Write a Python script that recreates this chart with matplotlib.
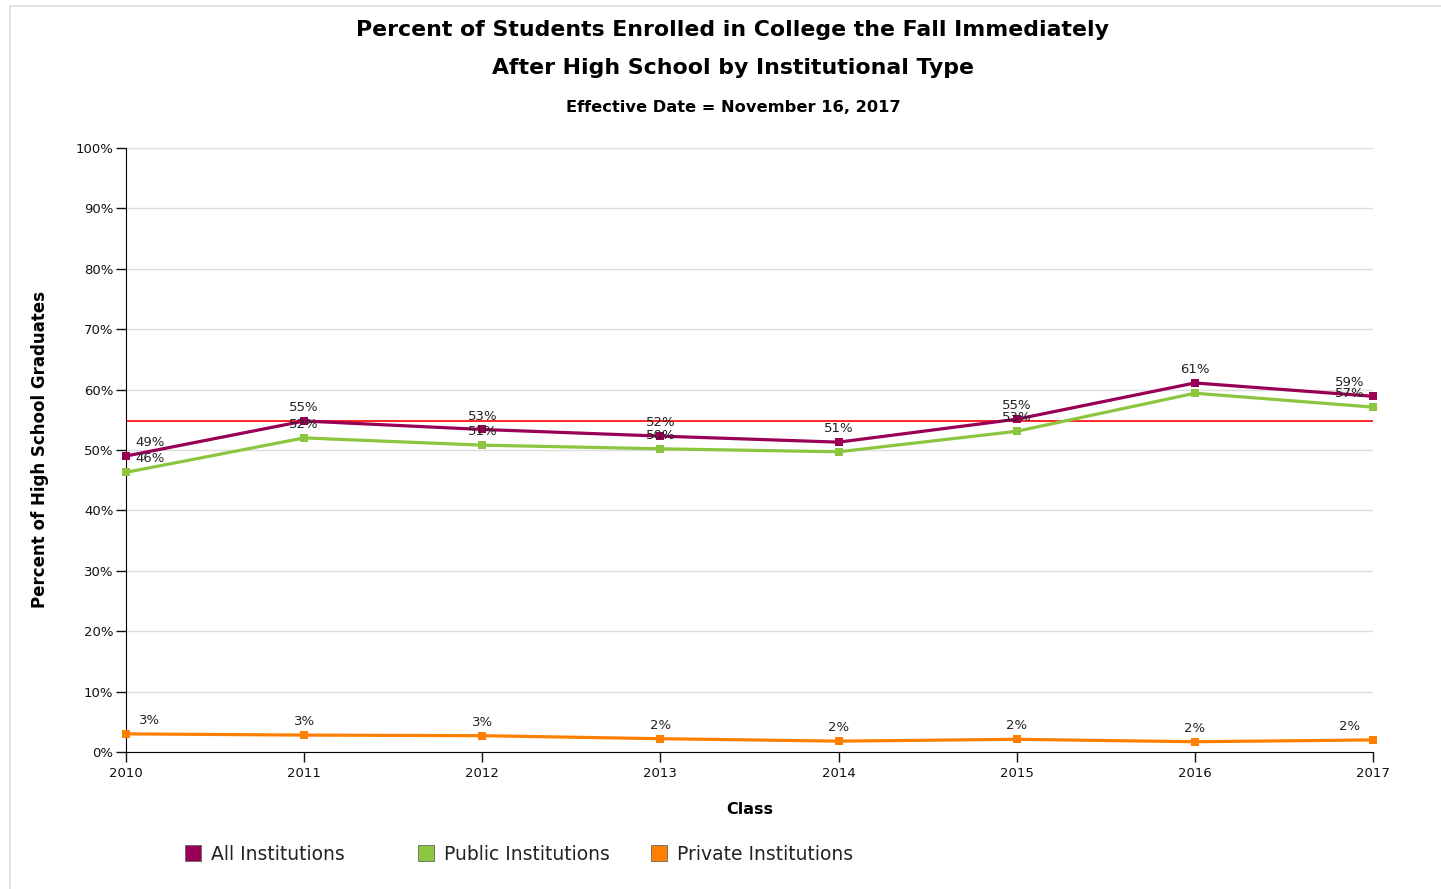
import matplotlib
matplotlib.use("Agg")
import matplotlib.pyplot as plt
from matplotlib.patches import Rectangle
from matplotlib.lines import Line2D

plt.rcParams['font.family'] = ['DejaVu Sans']

years = [2010, 2011, 2012, 2013, 2014, 2015, 2016, 2017]
all_inst = [49.0, 54.8, 53.4, 52.3, 51.3, 55.1, 61.1, 58.9]
public_inst = [46.3, 52.0, 50.8, 50.2, 49.7, 53.1, 59.4, 57.1]
private_inst = [3.0, 2.8, 2.7, 2.2, 1.8, 2.1, 1.7, 2.0]
benchmark = 54.8

series_names = ["All Institutions", "Public Institutions", "Private Institutions"]
series_colors = ["#990055", "#8cc63f", "#ff8000"]
yticks = list(range(0, 101, 10))
ytick_labels = [f"{v}%" for v in yticks]

W, H = 1441, 889
fig = plt.figure(figsize=(W / 100, H / 100), dpi=100)
fig.patch.set_facecolor("white")

# outer border
fig.add_artist(Rectangle((10 / W, -0.01), (W - 9) / W, (H - 6) / H + 0.01, transform=fig.transFigure,
                         fill=False, edgecolor="#dddddd", linewidth=1.2))

left, right, top, bottom = 126, 1373, 148, 752
ax = fig.add_axes([left / W, 1 - bottom / H, (right - left) / W, (bottom - top) / H])

ax.set_xlim(years[0], years[-1])
ax.set_ylim(0, 100)
ax.set_yticks(yticks)
ax.set_yticklabels(ytick_labels)
ax.set_xticks(years)
ax.set_xticklabels([str(y) for y in years])
ax.grid(axis="y", color="#dddddd", linewidth=1)
ax.set_axisbelow(True)
for s in ["top", "right"]:
    ax.spines[s].set_visible(False)
ax.spines["left"].set_color("black")
ax.spines["bottom"].set_color("black")
ax.tick_params(axis="both", direction="out", length=7, width=1, labelsize=9.5, colors="#111111")
ax.tick_params(axis="y", pad=2)
ax.tick_params(axis="x", pad=4)

ax.axhline(benchmark, color="#ff0000", linewidth=1.2, zorder=2)

data = [all_inst, public_inst, private_inst]
for k, (vals, color, name) in enumerate(zip(data, series_colors, series_names)):
    ax.plot(years, vals, color=color, linewidth=2.3, marker="s", markersize=6,
            markeredgewidth=0, zorder=3, clip_on=False, label=name)
    for i, (x, v) in enumerate(zip(years, vals)):
        # hide labels that collide with the series above (as the original chart does)
        if k == 1 and abs(all_inst[i] - v) < 1.75:
            continue
        dx = 0
        if i == 0:
            dx = 17
        elif i == len(years) - 1:
            dx = -17
        ax.annotate(f"{round(v):.0f}%", (x, v), xytext=(dx, 5), textcoords="offset points",
                    ha="center", va="bottom", fontsize=9.5, color="#222222", zorder=4)

ax.set_ylabel("Percent of High School Graduates", fontsize=12, fontweight="bold", labelpad=19)
ax.set_xlabel("Class", fontsize=11.5, fontweight="bold", labelpad=16)

fig.text(733 / W, 1 - 30 / H, "Percent of Students Enrolled in College the Fall Immediately",
         ha="center", va="center", fontsize=15.8, fontweight="bold")
fig.text(733 / W, 1 - 68 / H, "After High School by Institutional Type",
         ha="center", va="center", fontsize=15.8, fontweight="bold")
fig.text(733 / W, 1 - 108 / H, "Effective Date = November 16, 2017",
         ha="center", va="center", fontsize=11.7, fontweight="bold")

# legend: one entry per fixed-width slot
legend_x = [180, 413, 646]
for lx, c, name in zip(legend_x, series_colors, series_names):
    h = Line2D([], [], linestyle="none", marker="s", markersize=11, markerfacecolor=c,
               markeredgecolor="#666666", markeredgewidth=0.6)
    leg = fig.legend([h], [name], loc="center left", bbox_to_anchor=(lx / W, 1 - 854 / H),
                     frameon=False, fontsize=13.5, handletextpad=0.45, handlelength=1.0,
                     borderaxespad=0, borderpad=0.2)
    for t in leg.get_texts():
        t.set_color("#222222")

fig.savefig("out.png", dpi=100, facecolor="white")
